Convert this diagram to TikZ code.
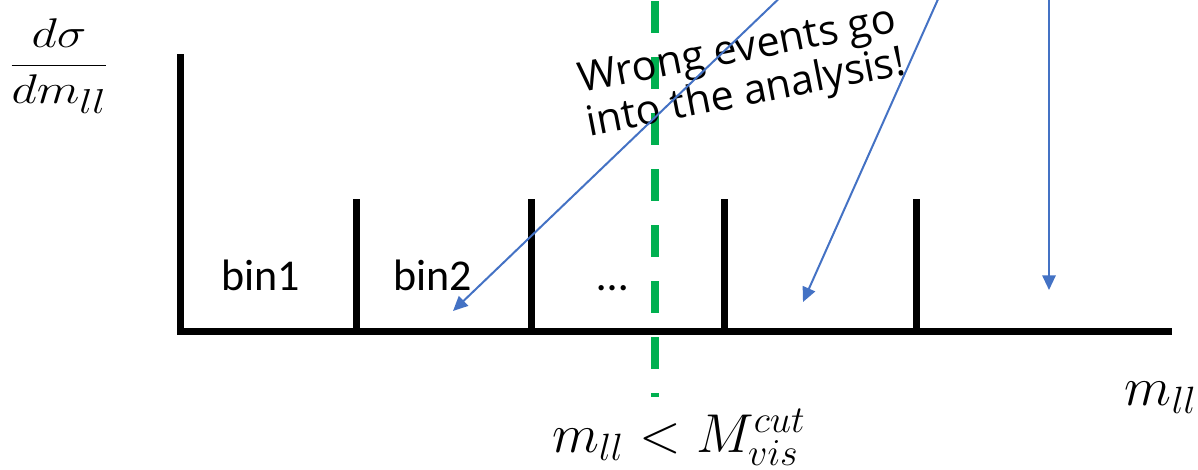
\documentclass[tikz,border=0pt]{standalone}
\usepackage{fontspec}
\newfontfamily\calfont{Carlito}
\newfontfamily\comicfont{Open Sans}
\usetikzlibrary{arrows.meta}
\definecolor{arrowblue}{RGB}{68,114,196}
\definecolor{cutgreen}{RGB}{0,176,80}
\newcommand{\bigmath}[1]{\scalebox{1.98}{\fontsize{20.74}{24}\selectfont$#1$}}
\tikzset{
  axisline/.style={line width=5.25pt, black},
  binline/.style={line width=5.25pt, black},
  cutline/.style={line width=6pt, cutgreen, dash pattern=on 24pt off 18pt},
  evarrow/.style={line width=1.5pt, arrowblue, -{Triangle[length=11pt,width=10pt]}},
  binlabel/.style={font=\calfont\fontsize{33}{38}\selectfont, anchor=base, inner sep=0pt},
  mathlabel/.style={anchor=base, inner sep=0pt},
  notelabel/.style={font=\comicfont\fontsize{31}{33}\selectfont, align=center, rotate=11, inner sep=0pt}
}
\begin{document}
\begin{tikzpicture}[x=0.75pt, y=-0.75pt]
\useasboundingbox (0,0) rectangle (1198,469);
% axes
\coordinate (yt) at (180,54);
\coordinate (orig) at (180,335);
\coordinate (xl) at (177,331.5);
\coordinate (xr) at (1172,331.5);
\draw[axisline] (yt) -- (orig);
\draw[axisline] (xl) -- (xr);
% bin separators
\foreach \n/\x in {b1/356, b2/531, b3/724, b4/916}{
  \coordinate (\n t) at (\x,199);
  \coordinate (\n b) at (\x,331.5);
  \draw[binline] (\n t) -- (\n b);
}
% cut line
\coordinate (ct) at (655,1);
\coordinate (cb) at (655,397);
\draw[cutline] (ct) -- (cb);
% labels
\node[binlabel] (bin1) at (261,290) {bin1};
\node[binlabel] (bin2) at (433,290) {bin2};
\node[binlabel] (dots) at (613,290) {…};
\node[mathlabel] (mx) at (1161,405) {\bigmath{m_{ll}}};
\node[mathlabel] (cutlab) at (679,452) {\bigmath{m_{ll} < M_{vis}^{cut}}};
\node[inner sep=0pt] (yl) at (59,66) {\scalebox{1.5}[1.25]{\fontsize{24.88}{30}\selectfont$\displaystyle\frac{d\sigma}{dm_{ll}}$}};
\node[notelabel] (note) at (742,74) {Wrong events go\\into the analysis!};
% arrows
\coordinate (a1s) at (790,-12);
\coordinate (a1e) at (453,311);
\coordinate (a2s) at (943,-12);
\coordinate (a2e) at (803,302);
\coordinate (a3s) at (1049,-12);
\coordinate (a3e) at (1049,290);
\draw[evarrow] (a1s) -- (a1e);
\draw[evarrow] (a2s) -- (a2e);
\draw[evarrow] (a3s) -- (a3e);
\end{tikzpicture}
\end{document}
